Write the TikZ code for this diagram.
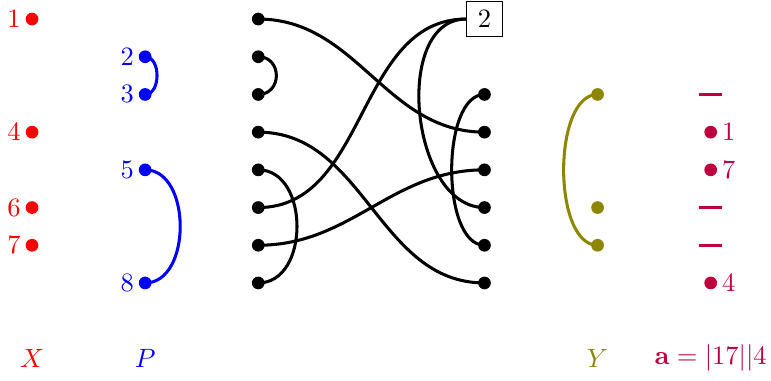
\documentclass[tikz,border=0pt]{standalone}
\usetikzlibrary{positioning}
\begin{document}
\begin{tikzpicture}[x=0.5cm,y=-0.5cm,
  dotnode/.style={circle,fill=#1,inner sep=0pt,minimum size=4.8pt},
  lab/.style={inner sep=1.5pt},
  wire/.style={line width=1.15pt},
  barline/.style={line width=1.2pt,purple}]
\useasboundingbox (-0.85,-0.505) rectangle (19.6,9.6);
% X column
\node[dotnode=red,label={[lab,red]left:$1$}] (x1) at (0,0) {};
\node[dotnode=red,label={[lab,red]left:$4$}] (x4) at (0,3) {};
\node[dotnode=red,label={[lab,red]left:$6$}] (x6) at (0,5) {};
\node[dotnode=red,label={[lab,red]left:$7$}] (x7) at (0,6) {};
% P column
\node[dotnode=blue,label={[lab,blue]left:$2$}] (p2) at (3,1) {};
\node[dotnode=blue,label={[lab,blue]left:$3$}] (p3) at (3,2) {};
\node[dotnode=blue,label={[lab,blue]left:$5$}] (p5) at (3,4) {};
\node[dotnode=blue,label={[lab,blue]left:$8$}] (p8) at (3,7) {};
\draw[wire,blue] (p2.center) .. controls +(0.42,0) and +(0.42,0) .. (p3.center);
\draw[wire,blue] (p5.center) .. controls +(1.24,0) and +(1.24,0) .. (p8.center);
% left black column
\foreach \i in {1,...,8}{
  \node[dotnode=black] (l\i) at (6,\i-1) {};
}
% right black column
\foreach \i in {3,...,8}{
  \node[dotnode=black] (r\i) at (12,\i-1) {};
}
\node[draw,line width=0.4pt,minimum width=13.5pt,minimum height=12.9pt,inner sep=0pt] (box) at (12,0) {$2$};
\draw[wire] (l2.center) .. controls +(0.64,0) and +(0.64,0) .. (l3.center);
\draw[wire] (l5.center) .. controls +(1.37,0) and +(1.37,0) .. (l8.center);
\draw[wire] (l1.center) to[out=0,in=180] (r4.center);
\draw[wire] (l4.center) to[out=0,in=180] (r8.center);
\draw[wire] (l7.center) to[out=0,in=180] (r5.center);
\draw[wire] (l6.center) to[out=0,in=180] (box.west);
\draw[wire] (box.west) to[out=180,in=180] (r6.center);
\draw[wire] (r3.center) .. controls +(-1.16,0) and +(-1.16,0) .. (r7.center);
% Y column
\node[dotnode=olive] (y3) at (15,2) {};
\node[dotnode=olive] (y6) at (15,5) {};
\node[dotnode=olive] (y7) at (15,6) {};
\draw[wire,olive] (y3.center) .. controls +(-1.2,0) and +(-1.2,0) .. (y7.center);
% a column
\coordinate (a3) at (18,2);
\coordinate (a6) at (18,5);
\coordinate (a7) at (18,6);
\draw[barline] ([xshift=-0.15cm]a3) -- ([xshift=0.15cm]a3);
\draw[barline] ([xshift=-0.15cm]a6) -- ([xshift=0.15cm]a6);
\draw[barline] ([xshift=-0.15cm]a7) -- ([xshift=0.15cm]a7);
\node[dotnode=purple,label={[lab,purple]right:$1$}] (a4) at (18,3) {};
\node[dotnode=purple,label={[lab,purple]right:$7$}] (a5) at (18,4) {};
\node[dotnode=purple,label={[lab,purple]right:$4$}] (a8) at (18,7) {};
% bottom labels
\node[red] (lx) at (0,9) {$X$};
\node[blue] (lp) at (3,9) {$P$};
\node[olive] (ly) at (15,9) {$Y$};
\node[purple] (la) at (18,9) {$\mathbf{a}=|17||4$};
\end{tikzpicture}
\end{document}
